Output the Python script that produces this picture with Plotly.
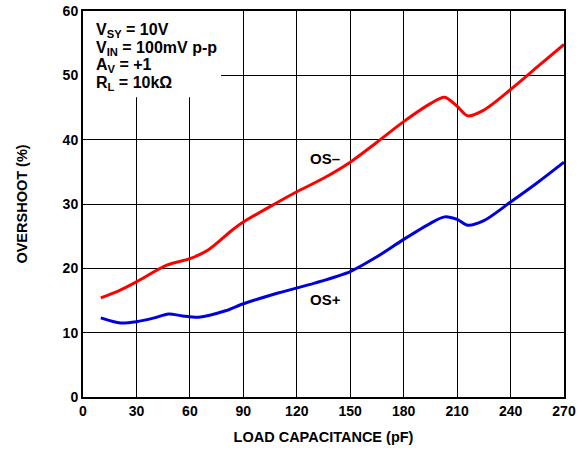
import plotly.graph_objects as go

cap_neg = [10, 20, 30, 47, 60, 70, 84, 90, 105, 120, 135, 150, 165, 180, 195, 203, 210, 216, 225, 240, 255, 270]
os_neg = [15.4, 16.5, 17.9, 20.5, 21.5, 22.8, 26.0, 27.2, 29.6, 31.9, 34.0, 36.5, 39.6, 42.8, 45.6, 46.6, 45.2, 43.7, 44.6, 47.8, 51.3, 54.8]

cap_pos = [10, 21, 30, 40, 48, 56, 65, 80, 90, 110, 130, 150, 165, 180, 195, 203, 210, 216, 225, 240, 255, 270]
os_pos = [12.3, 11.5, 11.7, 12.3, 12.9, 12.6, 12.4, 13.4, 14.5, 16.2, 17.7, 19.5, 21.8, 24.5, 27.0, 28.0, 27.6, 26.7, 27.4, 30.3, 33.3, 36.5]

x_ticks = [0, 30, 60, 90, 120, 150, 180, 210, 240, 270]
y_ticks = [0, 10, 20, 30, 40, 50, 60]

cond_lines = ["V<sub>SY</sub> = 10V", "V<sub>IN</sub> = 100mV p-p", "A<sub>V</sub> = +1", "R<sub>L</sub> = 10kΩ"]

font = "Liberation Sans, Arial, sans-serif"

fig = go.Figure()
fig.add_trace(go.Scatter(x=cap_neg, y=os_neg, mode="lines",
                         line=dict(color="#ff0000", width=3, shape="spline", smoothing=0.8),
                         showlegend=False, hoverinfo="skip"))
fig.add_trace(go.Scatter(x=cap_pos, y=os_pos, mode="lines",
                         line=dict(color="#0000dd", width=3, shape="spline", smoothing=0.8),
                         showlegend=False, hoverinfo="skip"))

fig.add_shape(type="rect", xref="x", yref="y", x0=0, x1=77.5, y0=46.6, y1=60,
              fillcolor="white", line=dict(width=0), layer="between")

for i, t in enumerate(cond_lines):
    fig.add_annotation(xref="paper", yref="paper", x=0.022, y=0.949 - i * 0.0457,
                       xanchor="left", yanchor="middle", align="left", showarrow=False,
                       text=t, font=dict(family=font, size=16, color="black", weight="bold"))

fig.add_annotation(x=136, y=37.1, text="OS–", showarrow=False,
                   font=dict(family=font, size=15, color="black", weight="bold"))
fig.add_annotation(x=136, y=15.1, text="OS+", showarrow=False,
                   font=dict(family=font, size=15, color="black", weight="bold"))

fig.update_xaxes(range=[0, 270], tickvals=x_ticks, ticktext=[str(v) for v in x_ticks],
                 showgrid=True, gridcolor="black", gridwidth=1,
                 showline=True, linecolor="black", linewidth=2, mirror=True,
                 zeroline=False, ticks="", ticklen=0, automargin=False, ticklabeloverflow="allow",
                 tickfont=dict(family=font, size=14, color="black", weight="bold"),
                 title=dict(text="LOAD CAPACITANCE (pF)", standoff=14,
                            font=dict(family=font, size=14.5, color="black", weight="bold")))
fig.update_yaxes(range=[0, 60], tickvals=y_ticks, ticktext=[str(v) for v in y_ticks],
                 showgrid=True, gridcolor="black", gridwidth=1,
                 showline=True, linecolor="black", linewidth=2, mirror=True,
                 zeroline=False, ticks="", ticklen=0, automargin=False, ticklabeloverflow="allow",
                 tickfont=dict(family=font, size=14, color="black", weight="bold"),
                 title=dict(text="OVERSHOOT (%)", standoff=32,
                            font=dict(family=font, size=14.5, color="black", weight="bold")))

fig.update_layout(width=584, height=451, margin=dict(l=83, r=20, t=11, b=54),
                  plot_bgcolor="white", paper_bgcolor="white", showlegend=False)

fig.write_html("out.html", config={"displayModeBar": False},
               post_script="document.body.style.margin='0px';")
